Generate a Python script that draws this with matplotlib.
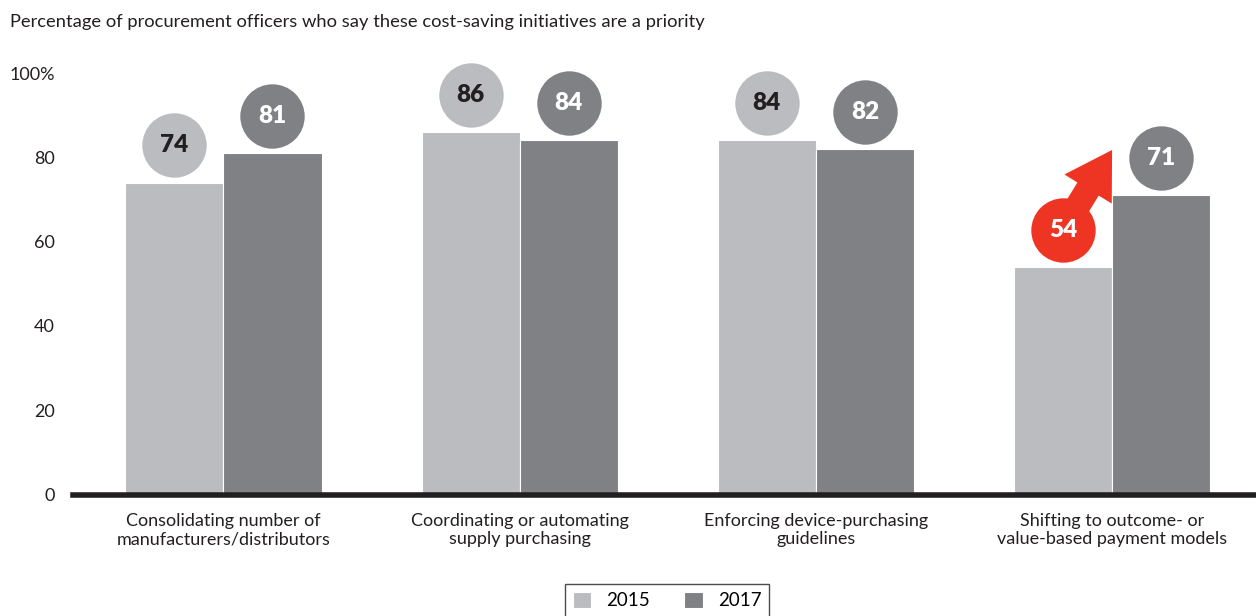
import matplotlib.pyplot as plt
from matplotlib.patches import FancyArrowPatch
import numpy as np

plt.rcParams['font.family'] = ['Lato', 'DejaVu Sans']

categories = ['Consolidating number of\nmanufacturers/distributors',
              'Coordinating or automating\nsupply purchasing',
              'Enforcing device-purchasing\nguidelines',
              'Shifting to outcome- or\nvalue-based payment models']
vals_2015 = [74, 86, 84, 54]
vals_2017 = [81, 84, 82, 71]
years = ['2015', '2017']
yticks = [0, 20, 40, 60, 80, 100]
ytick_labels = ['0', '20', '40', '60', '80', '100%']

c15 = '#bbbcc0'
c17 = '#808184'
red = '#ee3524'

fig = plt.figure(figsize=(12.56, 6.16), dpi=100)
ax = fig.add_axes([73 / 1256, 1 - 494.5 / 616, 1 - 73 / 1256, (494.5 - 73) / 616])

x = np.arange(len(categories))
w = 0.331
ax.bar(x - w / 2, vals_2015, w, color=c15, edgecolor='white', linewidth=0.8, label=years[0])
ax.bar(x + w / 2, vals_2017, w, color=c17, edgecolor='white', linewidth=0.8, label=years[1])

off = 8.8
for i in range(len(categories)):
    # 2015 bubble (last one highlighted red)
    fc = red if i == 3 else c15
    tc = 'white' if i == 3 else '#231f20'
    ax.scatter(x[i] - w / 2, vals_2015[i] + off, s=2150, color=fc, zorder=4, clip_on=False, linewidths=0)
    ax.text(x[i] - w / 2, vals_2015[i] + off, str(vals_2015[i]), ha='center', va='center',
            fontsize=17.5, fontweight='heavy', color=tc, zorder=5)
    ax.scatter(x[i] + w / 2, vals_2017[i] + off, s=2150, color=c17, zorder=4, clip_on=False, linewidths=0)
    ax.text(x[i] + w / 2, vals_2017[i] + off, str(vals_2017[i]), ha='center', va='center',
            fontsize=17.5, fontweight='heavy', color='white', zorder=5)

# arrow from 2015 to 2017 on the last group
arr = FancyArrowPatch((x[3] - w / 2, vals_2015[3] + off), (x[3] + 0.005, 82.3),
                      arrowstyle='simple,head_width=4.0,head_length=3.3,tail_width=1.8',
                      mutation_scale=10, color=red, zorder=3, clip_on=False, linewidth=0)
ax.add_patch(arr)

ax.set_xlim(-0.508, 3.486)
ax.set_ylim(0, 100)
ax.set_yticks(yticks)
ax.set_yticklabels(ytick_labels)
ax.set_xticks(x)
ax.set_xticklabels(categories)
ax.tick_params(axis='both', length=0, labelsize=13, colors='#231f20')
ax.tick_params(axis='y', pad=13)
ax.tick_params(axis='x', pad=13)
for s in ax.spines.values():
    s.set_visible(False)
ax.axhline(0, color='#231f20', lw=4, zorder=6, clip_on=False)

fig.text(10 / 1256, 1 - 22 / 616, 'Percentage of procurement officers who say these cost-saving initiatives are a priority',
         fontsize=13.2, color='#231f20', va='center')

leg = fig.legend(loc='upper center', bbox_to_anchor=(667 / 1256, 1 - 584 / 616), ncol=2,
                 fontsize=13.5, frameon=True, fancybox=False, handlelength=1.0, handleheight=1.0,
                 columnspacing=1.8, borderaxespad=0)
leg.get_frame().set_edgecolor('#231f20')
leg.get_frame().set_linewidth(1)

fig.savefig('out.png', dpi=100)
